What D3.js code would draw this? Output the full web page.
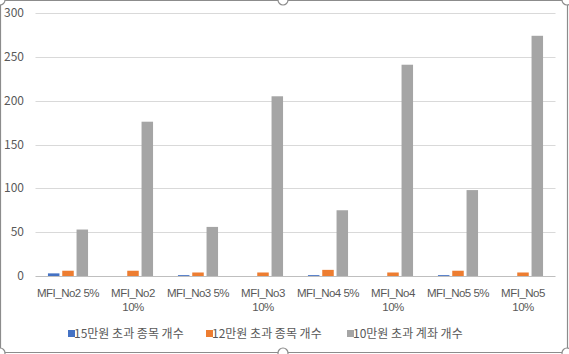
<!DOCTYPE html>
<html><head><meta charset="utf-8">
<script src="https://cdn.jsdelivr.net/npm/d3@7"></script>
<style>body{margin:0;background:#fff}svg{display:block}text{font-family:"Noto Sans CJK KR","Noto Sans",sans-serif}</style>
</head><body><div id="c"></div>
<script>
const categories = ["MFI_No2 5%","MFI_No2 10%","MFI_No3 5%","MFI_No3 10%","MFI_No4 5%","MFI_No4 10%","MFI_No5 5%","MFI_No5 10%"];
const seriesNames = ["15만원 초과 종목 개수","12만원 초과 종목 개수","10만원 초과 계좌 개수"];
const seriesColors = ["#4472c4","#ed7d31","#a5a5a5"];
const s15 = [3,0,1,0,1,0,1,0];
const s12 = [6,6,4,4,7,4,6,4];
const s10 = [53,176,56,205,75,241,98,274];
const yTicks = [0,50,100,150,200,250,300];

const W=569,H=354;
const svg=d3.select("#c").append("svg").attr("width",W).attr("height",H);
const m={l:35.5,r:555.5,t:13,b:276};
const x=d3.scaleBand().domain(categories).range([m.l,m.r]).padding(0);
const y=d3.scaleLinear().domain([0,300]).range([m.b,m.t]);

// frame
svg.append("rect").attr("x",0.5).attr("y",0.5).attr("width",W-2).attr("height",H-2).attr("rx",4)
  .attr("fill","#fff").attr("stroke","#8c8c8c").attr("stroke-width",1.2);
[[283,0],[283,H-1],[0,0],[W-2,0],[0,H-1],[W-2,H-1]].forEach(p=>svg.append("circle").attr("cx",p[0]).attr("cy",p[1]).attr("r",5).attr("fill","#fff").attr("stroke","#8c8c8c").attr("stroke-width",1.2));

// grid
const gy=svg.append("g");
yTicks.forEach(t=>{
  gy.append("line").attr("x1",m.l).attr("x2",m.r).attr("y1",Math.round(y(t))+0.5).attr("y2",Math.round(y(t))+0.5)
    .attr("stroke",t===0?"#bfbfbf":"#d9d9d9").attr("stroke-width",1);
  gy.append("text").attr("x",24).attr("y",y(t)+4).attr("text-anchor","end").attr("font-size",12).attr("fill","#595959").text(t);
});

// bars
const series=[s15,s12,s10];
const step=14.3, bw=11.5;
series.forEach((vals,si)=>{
  svg.append("g").selectAll("rect").data(vals).join("rect")
    .attr("x",(d,i)=>x(categories[i])+x.bandwidth()/2+(si-1)*step-bw/2)
    .attr("width",bw)
    .attr("y",d=>y(d)).attr("height",d=>y(0)-y(d))
    .attr("fill",seriesColors[si]);
});

// x labels
categories.forEach(c=>{
  const cx=x(c)+x.bandwidth()/2;
  const parts=c.endsWith("10%")?[c.replace(" 10%",""),"10%"]:[c];
  const t=svg.append("text").attr("text-anchor","middle").attr("font-size",11.5).attr("fill","#595959")
    .style("font-family","'Liberation Sans',Arial,sans-serif").style("letter-spacing","-0.5px");
  parts.forEach((p,k)=>t.append("tspan").attr("x",cx).attr("y",297+k*14).text(p));
});

// legend
const lx=[68,206,347];
seriesNames.forEach((n,i)=>{
  svg.append("rect").attr("x",lx[i]).attr("y",330).attr("width",7).attr("height",7).attr("fill",seriesColors[i]);
  svg.append("text").attr("x",lx[i]+6).attr("y",338).attr("font-size",12).attr("fill","#595959").text(n);
});
</script></body></html>
